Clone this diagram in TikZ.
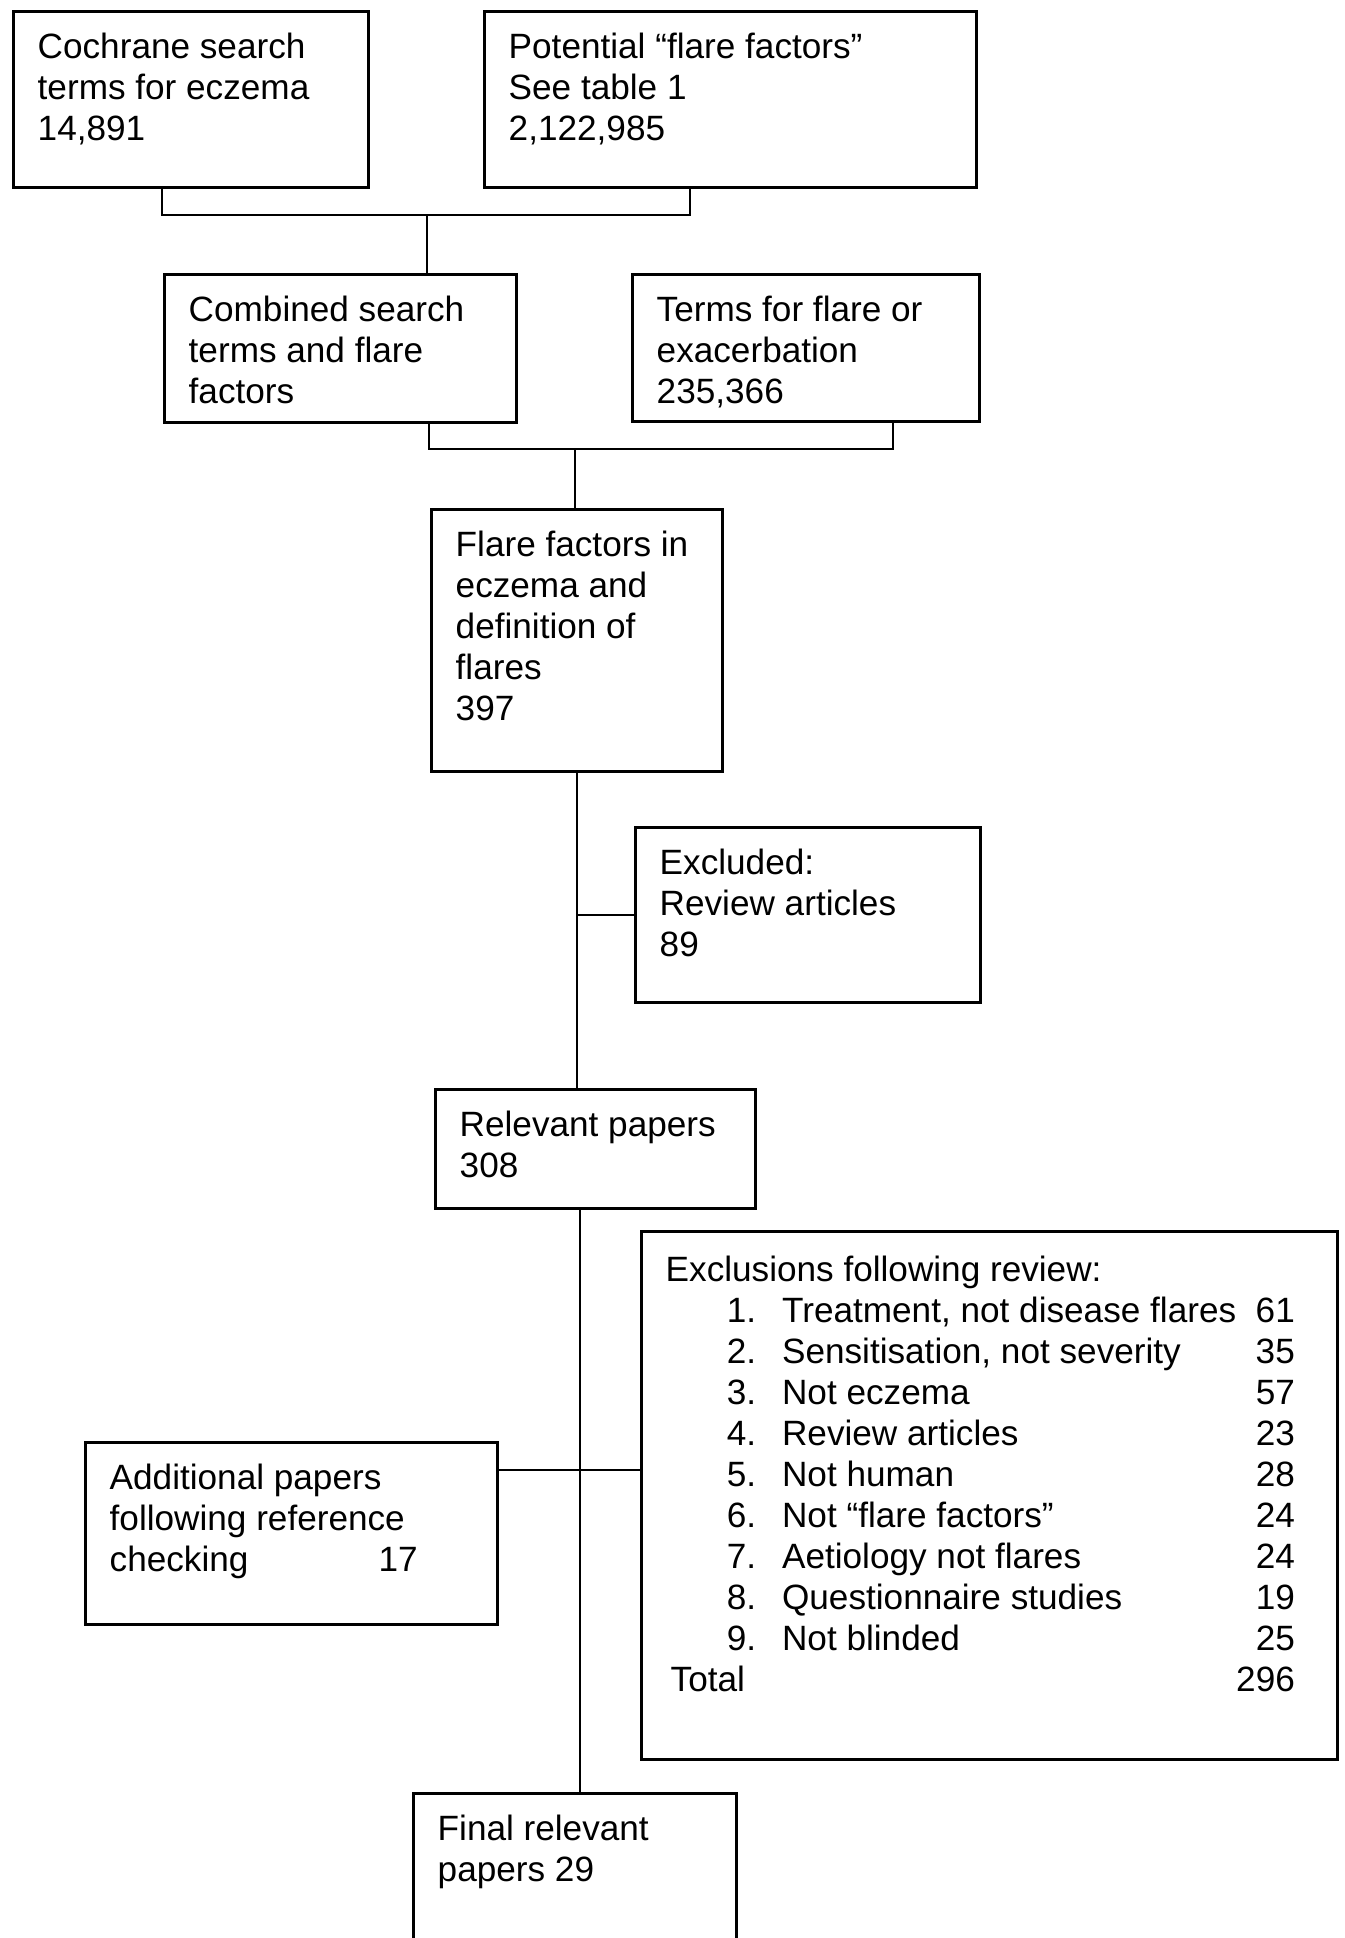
\documentclass[tikz,border=0pt]{standalone}
\usepackage{fontspec}
\setmainfont{Liberation Sans}
\usetikzlibrary{calc}
\tikzset{
	boite/.style={draw,line width=0.8pt,anchor=north west,inner sep=0pt},
	texte/.style={anchor=north west,align=left,inner xsep=0.25cm,inner ysep=6.2pt,font=\fontsize{10}{11.66}\selectfont},
	lien/.style={line width=0.6pt}
}
\newcommand{\Boite}[5]{\node[boite,minimum width=#3,minimum height=#4] (#1) at (#2) {}; \node[texte] at (#1.north west) {#5}}

\begin{document}
\begin{tikzpicture}[x=0.01cm,y=-0.01cm]
	\clip (0,0) rectangle (1345,1938); % page
	
	%Recherche
	\Boite{cochrane}{12,10}{3.55cm}{1.76cm}{Cochrane search\\terms for eczema\\14,891};
	\Boite{potentiel}{483,10}{4.92cm}{1.76cm}{Potential “flare factors”\\See table 1\\2,122,985};
	\Boite{combine}{163,273}{3.52cm}{1.48cm}{Combined search\\terms and flare\\factors};
	\Boite{termes}{631,273}{3.47cm}{1.47cm}{Terms for flare or\\exacerbation\\235,366};
	\Boite{facteurs}{430,508}{2.91cm}{2.62cm}{Flare factors in\\eczema and\\definition of\\flares\\397};
	
	%Tri
	\Boite{exclus}{634,826}{3.45cm}{1.75cm}{Excluded:\\Review articles\\89};
	\Boite{pertinents}{434,1088}{3.2cm}{1.19cm}{Relevant papers\\308};
	\Boite{exclusions}{640,1230}{6.96cm}{5.28cm}{%
		\begin{tabular*}{6.27cm}{@{\hspace{0.61cm}}l@{\hspace{0.26cm}}l@{\extracolsep{\fill}}r@{}}
			\multicolumn{3}{@{}l}{Exclusions following review:}\\
			1. & Treatment, not disease flares & 61\\
			2. & Sensitisation, not severity & 35\\
			3. & Not eczema & 57\\
			4. & Review articles & 23\\
			5. & Not human & 28\\
			6. & Not “flare factors” & 24\\
			7. & Aetiology not flares & 24\\
			8. & Questionnaire studies & 19\\
			9. & Not blinded & 25\\
			\multicolumn{2}{@{\hspace{0.05cm}}l}{Total} & 296
		\end{tabular*}};
	\Boite{additionnels}{84,1441}{4.12cm}{1.82cm}{Additional papers\\following reference\\checking\hspace{1.3cm}17};
	\Boite{final}{412,1792}{3.23cm}{2.2cm}{Final relevant\\papers 29};
	
	%Liens
	\coordinate (j1) at (427,215);
	\coordinate (j2) at (575,449);
	\draw[lien] ([xshift=1.5cm]cochrane.south west) |- (j1) -| ([xshift=2.07cm]potentiel.south west);
	\draw[lien] (j1) -- (j1 |- combine.north);
	\draw[lien] ([xshift=2.66cm]combine.south west) |- (j2) -| ([xshift=2.62cm]termes.south west);
	\draw[lien] (j2) -- (j2 |- facteurs.north);
	\draw[lien] (facteurs.south) -- (facteurs.south |- pertinents.north);
	\draw[lien] (facteurs.south |- exclus.west) -- (exclus.west);
	\draw[lien] ([xshift=1.46cm]pertinents.south west) coordinate (j3) -- (j3 |- final.north);
	\draw[lien] ([yshift=-0.29cm]additionnels.north east) coordinate (j4) -- (j4 -| exclusions.west);
	
\end{tikzpicture}
\end{document}
